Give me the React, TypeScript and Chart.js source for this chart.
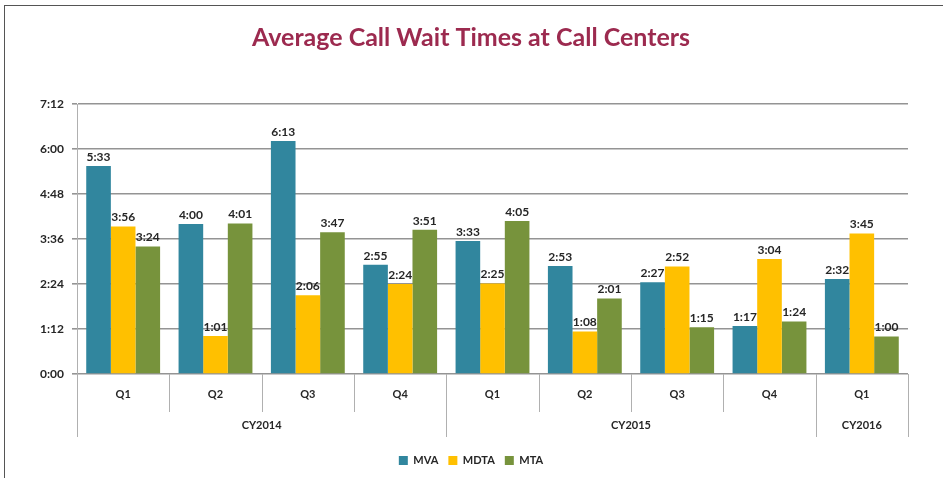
import React, { useEffect, useRef } from "react";
import { Chart, registerables } from "chart.js";

Chart.register(...registerables);

const categories = ["Q1", "Q2", "Q3", "Q4", "Q1", "Q2", "Q3", "Q4", "Q1"];
const years = ["CY2014", "CY2015", "CY2016"];
const yearSpans = [4, 4, 1];
// values in seconds
const mva = [333, 240, 373, 175, 213, 173, 147, 77, 152];
const mdta = [236, 61, 126, 144, 145, 68, 172, 184, 225];
const mta = [204, 241, 227, 231, 245, 121, 75, 84, 60];
const yMax = 432;
const yStep = 72;

const fmt = (v: number) => {
  const m = Math.floor(v / 60);
  const s = Math.round(v % 60);
  return `${m}:${s < 10 ? "0" : ""}${s}`;
};

const FONT = "Lato, 'Open Sans', sans-serif";

const extrasPlugin = {
  id: "extras",
  afterDatasetsDraw(chart: any) {
    const ctx = chart.ctx;
    ctx.save();
    ctx.font = `bold 12px ${FONT}`;
    ctx.fillStyle = "#262626";
    ctx.textAlign = "center";
    ctx.textBaseline = "bottom";
    chart.data.datasets.forEach((ds: any, di: number) => {
      const meta = chart.getDatasetMeta(di);
      meta.data.forEach((el: any, i: number) => {
        ctx.fillText(fmt(ds.data[i]), el.x, el.y - 3);
      });
    });
    ctx.restore();
  },
  afterDraw(chart: any) {
    const ctx = chart.ctx;
    const x = chart.scales.x;
    const bottom = chart.chartArea.bottom;
    ctx.save();
    ctx.strokeStyle = "#b0b0b0";
    ctx.lineWidth = 1;
    const yearBounds = new Set<number>();
    let acc = 0;
    yearBounds.add(0);
    yearSpans.forEach((s) => {
      acc += s;
      yearBounds.add(acc);
    });
    for (let i = 0; i <= categories.length; i++) {
      const px = Math.round(x.getPixelForValue(i - 0.5)) + 0.5;
      const len = yearBounds.has(i) ? 63 : 38;
      ctx.beginPath();
      ctx.moveTo(px, bottom);
      ctx.lineTo(px, bottom + len);
      ctx.stroke();
    }
    ctx.font = `bold 11px ${FONT}`;
    ctx.fillStyle = "#262626";
    ctx.textAlign = "center";
    ctx.textBaseline = "middle";
    let start = 0;
    years.forEach((y, yi) => {
      const a = x.getPixelForValue(start - 0.5);
      const b = x.getPixelForValue(start + yearSpans[yi] - 0.5);
      ctx.fillText(y, (a + b) / 2, bottom + 51);
      start += yearSpans[yi];
    });
    ctx.restore();
  },
};

export default function App() {
  const ref = useRef<HTMLCanvasElement | null>(null);
  useEffect(() => {
    if (!ref.current) return;
    const chart = new Chart(ref.current, {
      type: "bar",
      data: {
        labels: categories,
        datasets: [
          { label: "MVA", data: mva, backgroundColor: "#31869e" },
          { label: "MDTA", data: mdta, backgroundColor: "#ffc000" },
          { label: "MTA", data: mta, backgroundColor: "#77933c" },
        ],
      },
      options: {
        animation: false,
        responsive: false,
        maintainAspectRatio: false,
        layout: { padding: { left: 34, right: 35, top: 8, bottom: 2 } },
        datasets: { bar: { categoryPercentage: 0.8, barPercentage: 1.0 } },
        plugins: {
          title: {
            display: true,
            text: "Average Call Wait Times at Call Centers",
            color: "#9c2a4f",
            font: { family: FONT, size: 25, weight: "bold" },
            padding: { top: 15, bottom: 51 },
          },
          legend: {
            display: true,
            position: "bottom",
            labels: {
              boxWidth: 9,
              boxHeight: 9,
              padding: 10,
              color: "#262626",
              font: { family: FONT, size: 11, weight: "bold" },
            },
          },
          tooltip: { enabled: false },
        },
        scales: {
          x: {
            grid: { display: false, drawTicks: false },
            border: { display: false },
            ticks: {
              padding: 14,
              color: "#262626",
              font: { family: FONT, size: 11, weight: "bold" },
            },
            afterFit: (s: any) => {
              s.height = 71;
            },
          },
          y: {
            min: 0,
            max: yMax,
            grid: { color: "#949494", lineWidth: 1.6, tickLength: 5 },
            border: { display: true, color: "#b0b0b0", width: 1 },
            ticks: {
              stepSize: yStep,
              padding: 8,
              color: "#262626",
              font: { family: FONT, size: 12, weight: "bold" },
              callback: (v: any) => fmt(Number(v)),
            },
            afterFit: (s: any) => {
              s.width = 43;
            },
          },
        },
      },
      plugins: [extrasPlugin],
    });
    return () => chart.destroy();
  }, []);
  return (
    <div style={{ position: "absolute", left: 0, top: 0, width: 943, height: 478, background: "#fff", overflow: "hidden" }}>
      <div style={{ position: "absolute", left: 4, top: 5, width: 945, height: 480, borderLeft: "1px solid #555", borderTop: "1px solid #555" }} />
      <canvas ref={ref} width={943} height={478} style={{ position: "absolute", left: 0, top: 0 }} />
    </div>
  );
}
